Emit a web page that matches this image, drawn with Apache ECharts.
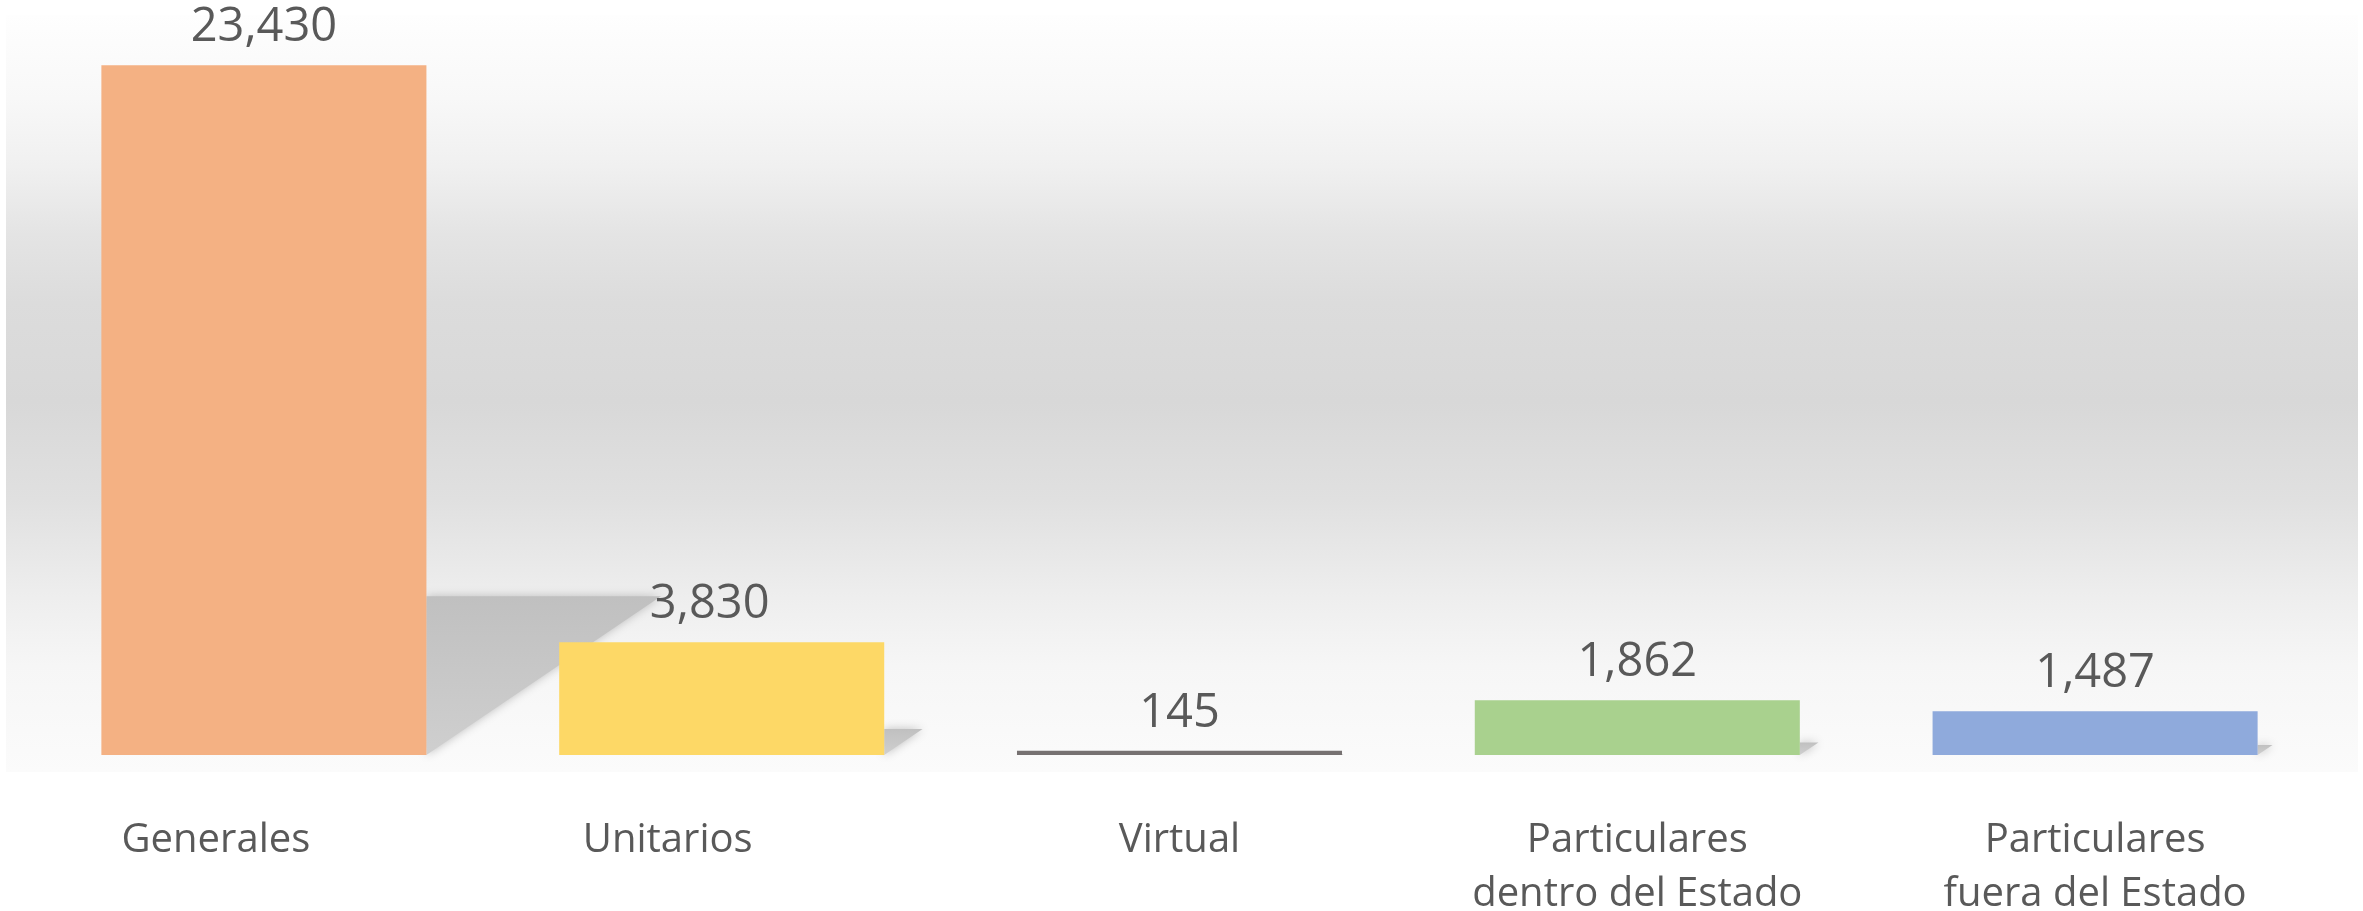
<!DOCTYPE html>
<html>
<head>
<meta charset="utf-8">
<title>Registros</title>
<script src="https://cdn.jsdelivr.net/npm/echarts@6/dist/echarts.min.js"></script>
<style>
  html, body { margin: 0; padding: 0; background: #fff; }
  #chart { width: 2363px; height: 911px; }
</style>
</head>
<body>
<div id="chart"></div>
<script>
// datos del grafico
var categorias = ["Generales", "Unitarios", "Virtual", "Particulares\ndentro del Estado", "Particulares\nfuera del Estado"];
var valores = [23430, 3830, 145, 1862, 1487];
var colores = ["#f4b183", "#fdd866", "#767171", "#a9d18e", "#8faadc"];

var chart = echarts.init(document.getElementById("chart"));

var anchoBarra = 0.71; // fraccion de la banda

// sombra en perspectiva detras de cada barra (estilo Excel)
function sombra(params, api) {
  var v = api.value(1);
  var base = api.coord([api.value(0), 0]);
  var tope = api.coord([api.value(0), v]);
  var banda = api.size([1, 0])[0];
  var h = base[1] - tope[1];
  var x = base[0] + (banda * anchoBarra) / 2;
  var alto = h * 0.23;
  var largo = h * 0.34;
  return {
    type: "polygon",
    shape: {
      points: [
        [x, base[1] - alto],
        [x + largo, base[1] - alto],
        [x, base[1]]
      ]
    },
    style: {
      fill: new echarts.graphic.LinearGradient(0, 0, 0, 1, [
        { offset: 0, color: "#c0c0c0" },
        { offset: 1, color: "#cfcfcf" }
      ]),
      shadowBlur: 10,
      shadowColor: "rgba(175,175,175,0.8)"
    }
  };
}

chart.setOption({
  backgroundColor: "#ffffff",
  textStyle: { fontFamily: "Open Sans" },
  graphic: [
    {
      type: "rect",
      left: 6,
      top: 15,
      z: -10,
      silent: true,
      shape: { width: 2352, height: 757 },
      style: {
        fill: new echarts.graphic.LinearGradient(0, 0, 0, 1, [
          { offset: 0, color: "#fefefe" },
          { offset: 0.11, color: "#f8f8f8" },
          { offset: 0.2, color: "#f0f0f0" },
          { offset: 0.29, color: "#e4e4e4" },
          { offset: 0.38, color: "#dcdcdc" },
          { offset: 0.51, color: "#d8d8d8" },
          { offset: 0.64, color: "#e0e0e0" },
          { offset: 0.77, color: "#eeeeee" },
          { offset: 0.86, color: "#f6f6f6" },
          { offset: 1, color: "#fbfbfb" }
        ])
      }
    }
  ],
  grid: { left: 35, right: 39, top: 19, bottom: 156, outerBoundsMode: "none" },
  xAxis: {
    type: "category",
    data: categorias.map(function (c, i) {
      // las dos primeras etiquetas van algo corridas a la izquierda
      var corr = [96, 108, 0, 0, 0][i];
      return { value: c, textStyle: { padding: [0, corr, 0, 0] } };
    }),
    axisLine: { show: false },
    axisTick: { show: false },
    axisLabel: {
      interval: 0,
      margin: 59,
      fontSize: 40,
      lineHeight: 54,
      color: "#595959",
      fontFamily: "Open Sans"
    }
  },
  yAxis: {
    type: "value",
    min: 0,
    max: 25000,
    show: false,
    splitLine: { show: false }
  },
  series: [
    {
      type: "custom",
      z: 1,
      silent: true,
      renderItem: sombra,
      data: valores.map(function (v, i) { return [i, v]; })
    },
    {
      type: "bar",
      z: 3,
      barWidth: "71%",
      data: valores.map(function (v, i) {
        var item = { value: v, itemStyle: { color: colores[i] } };
        if (i === 1) item.label = { offset: [-12, 0] };
        return item;
      }),
      label: {
        show: true,
        position: "top",
        distance: 14,
        fontSize: 47,
        color: "#595959",
        fontFamily: "Open Sans",
        formatter: function (p) {
          return p.value.toLocaleString("en-US");
        }
      }
    }
  ]
});
</script>
</body>
</html>
